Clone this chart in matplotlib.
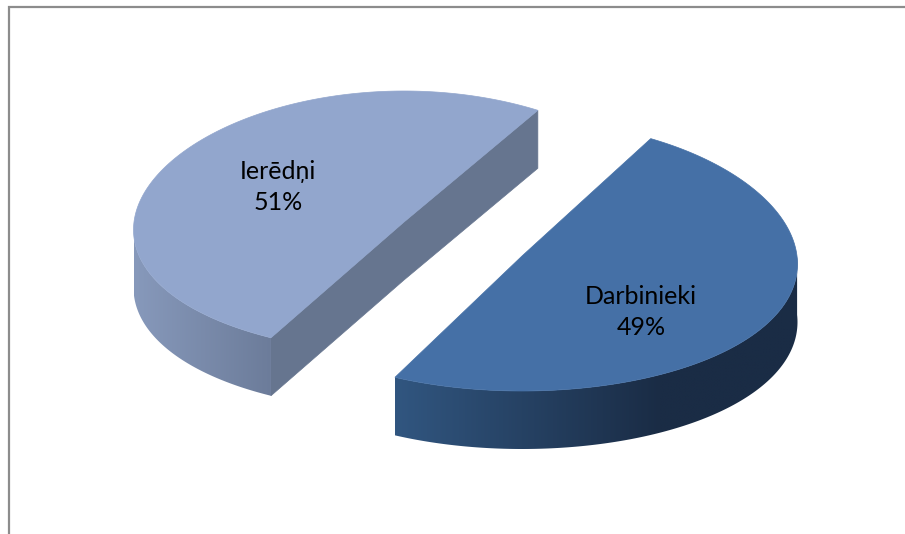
#!/usr/bin/python

import numpy as np
import matplotlib
matplotlib.use("Agg")
import matplotlib.pyplot as plt
from matplotlib.patches import Polygon

categories = ["Ierēdņi", "Darbinieki"]
values = [51, 49]

W, H = 905, 534
DEPTH = 58
PERSP = 0.06  # front of the pie is drawn a bit wider than the back


def ellipse(t, cx, cy, a, b, drop=0):
    """points on the top face rim, t in degrees, counter-clockwise, y down"""
    r = np.radians(t)
    x = cx + a * np.cos(r) * (1 - PERSP * np.sin(r))
    y = cy - b * np.sin(r) + drop
    return np.column_stack([x, y])


def gradient_poly(ax, pts, x_stop, c0, c1):
    """horizontal colour ramp clipped to a polygon, flat after x_stop"""
    x0, x1 = pts[:, 0].min(), pts[:, 0].max()
    xs = np.linspace(x0, x1, 256)
    ramp = np.clip((xs - x0) / (x_stop - x0), 0, 1)[:, None]
    c0 = np.array(matplotlib.colors.to_rgb(c0))
    c1 = np.array(matplotlib.colors.to_rgb(c1))
    img = (c0 + (c1 - c0) * ramp)[None, :, :]
    y0, y1 = pts[:, 1].min(), pts[:, 1].max()
    im = ax.imshow(img, extent=(x0, x1, y1, y0), aspect="auto", zorder=2, interpolation="bilinear")
    im.set_clip_path(Polygon(pts, closed=True, transform=ax.transData))


def wall(t, geom):
    top = ellipse(t, *geom)
    bottom = ellipse(t, *geom, drop=DEPTH)
    return np.vstack([top, bottom[::-1]])


fig = plt.figure(figsize=(W / 100, H / 100), dpi=100)
ax = fig.add_axes([0, 0, 1, 1])

# slice sizes come from the values
span = [v / sum(values) * 360 for v in values]

# left slice
geom_l = (404, 222, 270, 131)
t_l = np.linspace(58.5, 58.5 + span[0], 300)
rim = ellipse(t_l, *geom_l)
centre = np.array([[geom_l[0], geom_l[1]]])
cut = np.vstack([rim[0], centre, rim[-1]])
cut_low = cut + [0, DEPTH]
ax.add_patch(Polygon(np.vstack([cut, cut_low[::-1]]), closed=True, fc="#66758f", ec="#66758f", lw=0.5, zorder=2))
pts = wall(t_l[t_l >= 180], geom_l)
gradient_poly(ax, pts, pts[:, 0].max(), "#8799bb", "#6c7c9a")
ax.add_patch(Polygon(np.vstack([centre, rim]), closed=True, fc="#92a6cd", ec="#92a6cd", lw=0.5, zorder=3))

# right slice
geom_r = (522, 256, 275, 135)
t_r = np.linspace(60.4 - span[1], 60.4, 300)
rim = ellipse(t_r, *geom_r)
centre = np.array([[geom_r[0], geom_r[1]]])
pts = wall(t_r[t_r <= 0], geom_r)
gradient_poly(ax, pts, 660, "#315680", "#1a2c45")
ax.add_patch(Polygon(np.vstack([centre, rim]), closed=True, fc="#4570a6", ec="#4570a6", lw=0.5, zorder=3))

# chart area border, only top and left are inside the picture
ax.plot([8.5, 8.5, W], [H, 7, 7], color="#8c8c8c", lw=1.6, zorder=1, solid_joinstyle="miter")

label_pos = [(278, 187), (641, 312)]
for name, val, (x, y) in zip(categories, values, label_pos):
    ax.text(x, y, "%s\n%d%%" % (name, val), ha="center", va="center", fontsize=18, family="Lato",
            color="black", linespacing=1.42, zorder=4)

ax.set_xlim(0, W)
ax.set_ylim(H, 0)
ax.axis("off")
fig.savefig("out.png", dpi=100, facecolor="white")
